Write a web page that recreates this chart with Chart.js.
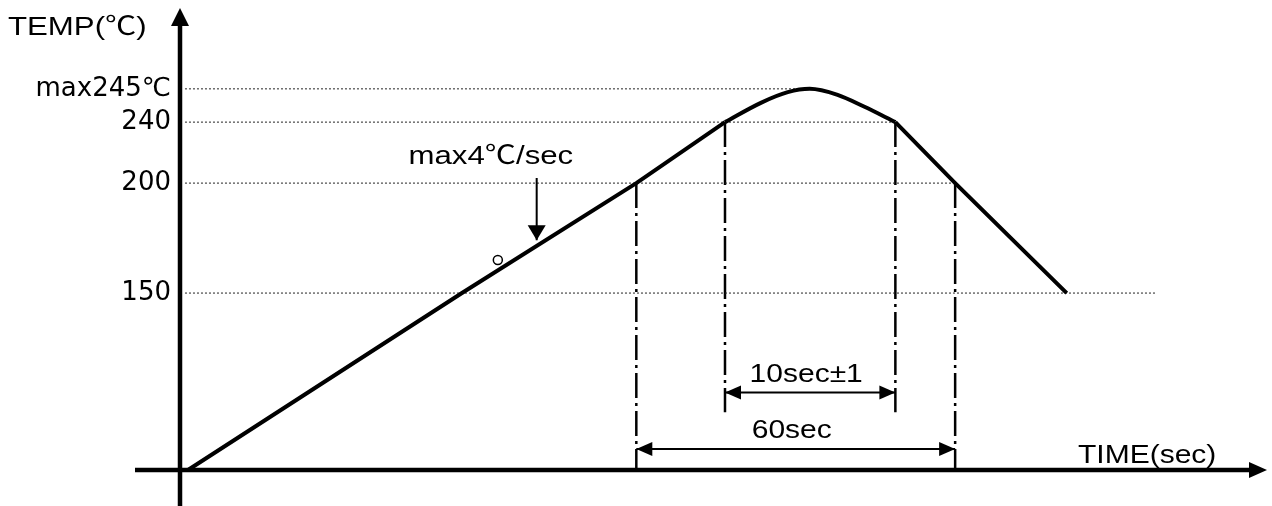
<!DOCTYPE html>
<html>
<head>
<meta charset="utf-8">
<script src="https://cdn.jsdelivr.net/npm/chart.js@4.4.1/dist/chart.umd.min.js"></script>
<style>
  html, body { margin: 0; padding: 0; background: #fff; }
  #wrap { width: 1272px; height: 506px; }
</style>
</head>
<body>
<div id="wrap"><canvas id="profile"></canvas></div>
<script>
// reflow profile - a schematic, neither axis is to scale
const tempTicks = [150, 200, 240, 245];
const tickLabels = ["150", "200", "240", "max245℃"];

// profile curve (time in schematic units)
const rampTime = [8, 283, 458, 547];
const rampTemp = [0, 150, 200, 240];
const domeTime = [547, 583, 610, 632, 660, 687, 718];
const domeTemp = [240, 242.9, 244.5, 245, 244.1, 242.3, 240];
const fallTime = [718, 778, 890];
const fallTemp = [240, 200, 150];

// dotted guides: level and where they stop
const guideTemp = [245, 240, 200, 150];
const guideEnd = [632, 718, 778, 980];

// dash-dot markers
const markTime = [458, 547, 718, 778];
const markTop = [200, 240, 240, 200];
const markBottom = [0, 49, 49, 0];

// dimension arrows
const spanLabels = ["10sec±1", "60sec"];
const spanFrom = [547, 458];
const spanTo = [718, 778];
const spanTemp = [65.6, 17.9];

// the temperature axis is stretched unevenly in the drawing
const warpTemp = [0, 150, 200, 240, 245, 270];
const warpPos = [0, 0.383, 0.621, 0.753, 0.825, 1];

function warp(v, from, to) {
  for (let i = 1; i < from.length; i++) {
    if (v <= from[i] || i === from.length - 1) {
      const f = (v - from[i - 1]) / (from[i] - from[i - 1]);
      return to[i - 1] + f * (to[i] - to[i - 1]);
    }
  }
}

class SchematicScale extends Chart.LinearScale {
  static id = "schematic";
  getPixelForValue(value) {
    if (value === null) return NaN;
    return this.getPixelForDecimal(warp(value, warpTemp, warpPos));
  }
  getValueForPixel(pixel) {
    return warp(this.getDecimalForPixel(pixel), warpPos, warpTemp);
  }
}
Chart.register(SchematicScale);

const pts = (xs, ys) => xs.map((x, i) => ({ x, y: ys[i] }));
const FONT_FAMILY = '"Liberation Sans", "Noto Sans CJK JP", sans-serif';

function drawHead(ctx, fx, fy, tx, ty, len, half) {
  const a = Math.atan2(ty - fy, tx - fx);
  ctx.beginPath();
  ctx.moveTo(tx, ty);
  ctx.lineTo(tx - len * Math.cos(a) + half * Math.sin(a), ty - len * Math.sin(a) - half * Math.cos(a));
  ctx.lineTo(tx - len * Math.cos(a) - half * Math.sin(a), ty - len * Math.sin(a) + half * Math.cos(a));
  ctx.closePath();
  ctx.fill();
}

function wideText(ctx, text, x, y, align, baseline, size) {
  ctx.save();
  ctx.translate(x, y);
  ctx.scale(1.2, 1);
  ctx.font = size + "px " + FONT_FAMILY;
  ctx.textAlign = align;
  ctx.textBaseline = baseline;
  ctx.fillText(text, 0, 0);
  ctx.restore();
}

const datasets = [
  { data: pts(rampTime, rampTemp), borderWidth: 4, tension: 0 },
  { data: pts(domeTime, domeTemp), borderWidth: 4, cubicInterpolationMode: "monotone" },
  { data: pts(fallTime, fallTemp), borderWidth: 4, tension: 0 },
  { data: [{ x: 319, y: 165 }], showLine: false, pointRadius: 4.5, pointBorderWidth: 1.5,
    pointBackgroundColor: "#fff", pointBorderColor: "#000" },
  { data: [{ x: 358, y: 203.3 }, { x: 358, y: 174 }], borderWidth: 2, heads: ["end"], headLength: 15, headHalf: 9 }
];

guideTemp.forEach((t, i) => {
  datasets.push({ data: [{ x: 5, y: t }, { x: guideEnd[i], y: t }], borderWidth: 1, borderDash: [2, 2], borderColor: "#222" });
});
markTime.forEach((x, i) => {
  datasets.push({ data: [{ x, y: markTop[i] }, { x, y: markBottom[i] }], borderWidth: 2.5, borderDash: [25, 5, 3, 5] });
});
spanLabels.forEach((label, i) => {
  datasets.push({ data: [{ x: spanFrom[i], y: spanTemp[i] }, { x: spanTo[i], y: spanTemp[i] }],
    borderWidth: 2, heads: ["start", "end"], headLength: 16, headHalf: 7, label });
});
datasets.forEach(ds => {
  ds.borderColor = ds.borderColor || "#000";
  ds.pointRadius = ds.pointRadius || 0;
  ds.clip = false;
});

const extras = {
  id: "extras",
  afterDatasetsDraw(chart) {
    const { ctx, chartArea, scales: { x, y } } = chart;
    ctx.save();
    ctx.fillStyle = "#000";
    ctx.strokeStyle = "#000";

    // arrow heads on datasets
    chart.data.datasets.forEach((ds, i) => {
      if (!ds.heads) return;
      const p = chart.getDatasetMeta(i).data;
      ds.heads.forEach(end => {
        const tip = end === "start" ? p[0] : p[p.length - 1];
        const from = end === "start" ? p[1] : p[p.length - 2];
        drawHead(ctx, from.x, from.y, tip.x, tip.y, ds.headLength, ds.headHalf);
      });
    });

    // axes with arrows
    const x0 = x.getPixelForValue(0);
    const y0 = y.getPixelForValue(0);
    ctx.lineWidth = 4.5;
    ctx.beginPath();
    ctx.moveTo(x0, chart.height);
    ctx.lineTo(x0, chartArea.top + 12);
    ctx.moveTo(chartArea.left - 45, y0);
    ctx.lineTo(chartArea.right - 12, y0);
    ctx.stroke();
    drawHead(ctx, x0, y0, x0, chartArea.top, 18, 9);
    drawHead(ctx, x0, y0, chartArea.right + 1, y0, 18, 8);

    // texts
    wideText(ctx, "TEMP(℃)", 8, chartArea.top + 20, "left", "middle", 26);
    wideText(ctx, "TIME(sec)", chartArea.right - 188, y0 - 1, "left", "bottom", 25);
    wideText(ctx, "max4℃/sec", x.getPixelForValue(312), y.getPixelForValue(217), "center", "middle", 26);
    spanLabels.forEach((label, i) => {
      wideText(ctx, label, x.getPixelForValue((spanFrom[i] + spanTo[i]) / 2) - 4,
        y.getPixelForValue(spanTemp[i]) - 5, "center", "bottom", 25);
    });
    ctx.restore();
  }
};

new Chart(document.getElementById("profile"), {
  type: "line",
  data: { datasets },
  options: {
    responsive: true,
    maintainAspectRatio: false,
    animation: false,
    layout: { padding: { left: 0, top: 8, right: 2, bottom: 36 } },
    plugins: { legend: { display: false }, tooltip: { enabled: false } },
    scales: {
      x: { type: "linear", min: 0, max: 1090, display: false },
      y: {
        type: "schematic",
        min: 0,
        max: 270,
        grid: { display: false, drawTicks: false },
        border: { display: false },
        afterBuildTicks(scale) {
          scale.ticks = tempTicks.map(v => ({ value: v }));
        },
        afterFit(scale) {
          scale.width = 180;
          scale.paddingTop = 0;
          scale.paddingBottom = 0;
        },
        ticks: {
          padding: 9,
          color: "#000",
          font: { family: '"DejaVu Sans"', size: 26 },
          callback: v => tickLabels[tempTicks.indexOf(v)]
        }
      }
    }
  },
  plugins: [extras]
});
</script>
</body>
</html>
